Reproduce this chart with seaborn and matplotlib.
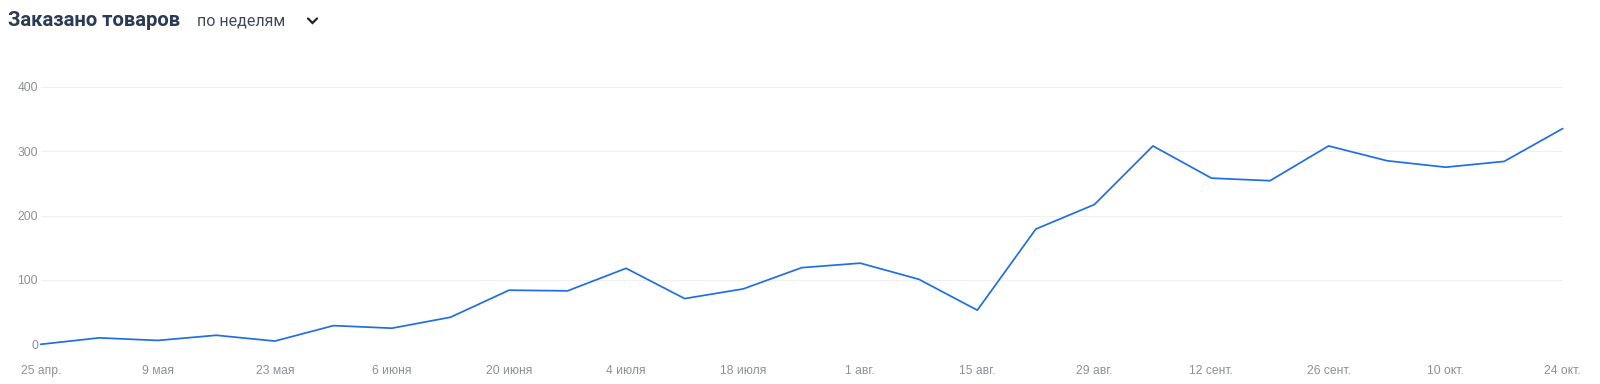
import numpy as np
import pandas as pd
import matplotlib
matplotlib.use("Agg")
import matplotlib.pyplot as plt
import seaborn as sns
from matplotlib.lines import Line2D

# ---- data ----
week_start = "2021-04-25"
n_weeks = 27
orders = [0, 10, 6, 14, 5, 29, 25, 42, 84, 83, 118, 71, 86, 119, 126, 101, 53,
          179, 217, 308, 258, 254, 308, 285, 275, 284, 335]
tick_labels = ["25 апр.", "9 мая", "23 мая", "6 июня", "20 июня", "4 июля",
               "18 июля", "1 авг.", "15 авг.", "29 авг.", "12 сент.",
               "26 сент.", "10 окт.", "24 окт."]
y_ticks = [0, 100, 200, 300, 400]
title = "Заказано товаров"
subtitle = "по неделям"

dates = pd.date_range(week_start, periods=n_weeks, freq="7D")
df = pd.DataFrame({"date": dates, "orders": orders})

sns.set_theme(style="white")
plt.rcParams["font.family"] = ["Liberation Sans", "DejaVu Sans"]

fig = plt.figure(figsize=(16, 3.84), dpi=100)
ax = fig.add_axes([40.7 / 1600, 39.7 / 384, (1562.7 - 40.7) / 1600, (297.3 - 39.7) / 384])

sns.lineplot(data=df, x="date", y="orders", ax=ax, color="#1f6fe3",
             linewidth=1.25, clip_on=False, zorder=3)

ax.set_xlim(dates[0], dates[-1])
ax.set_ylim(0, 400)
ax.set_yticks(y_ticks)
ax.set_yticklabels([str(v) for v in y_ticks])
ax.set_xticks(dates[::2])
ax.set_xticklabels(tick_labels)
ax.set_xlabel("")
ax.set_ylabel("")
ax.grid(axis="y", color="#eff0f2", linewidth=0.8)
ax.grid(axis="x", visible=False)
for s in ax.spines.values():
    s.set_visible(False)
ax.tick_params(axis="y", length=0, pad=2, labelsize=8.7, labelcolor="#8d919b")
ax.tick_params(axis="x", length=0, pad=15, labelsize=8.7, labelcolor="#8d919b")

fig.text(8 / 1600, 1 - 21 / 384, title, fontsize=14.6, fontweight="bold",
         color="#2b3a55", va="center", ha="left", family=["Roboto", "DejaVu Sans"])
fig.text(197 / 1600, 1 - 21 / 384, subtitle, fontsize=11.5, color="#3f4a5e",
         va="center", ha="left", family=["Roboto", "DejaVu Sans"])
# dropdown chevron
fig.add_artist(Line2D([308 / 1600, 312.5 / 1600, 317 / 1600],
                      [1 - 18.5 / 384, 1 - 23 / 384, 1 - 18.5 / 384],
                      transform=fig.transFigure, color="#1c2333", linewidth=1.6,
                      solid_capstyle="round", solid_joinstyle="miter"))

fig.savefig("out.png", dpi=100, facecolor="white")
